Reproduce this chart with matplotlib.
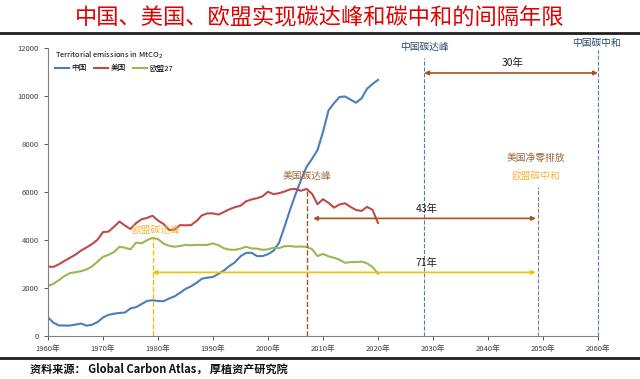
import matplotlib
matplotlib.use("Agg")
import matplotlib.pyplot as plt
import numpy as np

plt.rcParams['font.family'] = ['Noto Sans CJK SC', 'DejaVu Sans']

years = np.arange(1960, 2021)

# Territorial emissions, MtCO2
china = [780, 550, 440, 436, 436, 475, 520, 430, 470, 580,
         770, 880, 930, 960, 980, 1150, 1200, 1330, 1460, 1490,
         1460, 1450, 1560, 1650, 1800, 1960, 2070, 2210, 2390, 2430,
         2460, 2590, 2730, 2920, 3070, 3320, 3460, 3470, 3330, 3330,
         3410, 3550, 3880, 4550, 5250, 5900, 6500, 7040, 7380, 7750,
         8500, 9400, 9700, 9960, 9980, 9850, 9720, 9900, 10300, 10500,
         10670]
usa = [2890, 2880, 2990, 3130, 3260, 3390, 3560, 3690, 3830, 4010,
       4330, 4350, 4550, 4770, 4600, 4460, 4700, 4860, 4920, 5010,
       4810, 4670, 4420, 4430, 4620, 4610, 4620, 4790, 5030, 5110,
       5110, 5060, 5170, 5280, 5370, 5430, 5610, 5690, 5740, 5820,
       6010, 5910, 5950, 6020, 6110, 6130, 6050, 6130, 5930, 5490,
       5700, 5550, 5350, 5480, 5530, 5380, 5250, 5210, 5380, 5260,
       4710]
eu27 = [2080, 2180, 2330, 2500, 2620, 2660, 2700, 2770, 2900, 3100,
        3300, 3380, 3500, 3720, 3680, 3610, 3890, 3860, 3990, 4090,
        4040, 3850, 3760, 3720, 3750, 3800, 3780, 3800, 3790, 3800,
        3860, 3780, 3650, 3600, 3590, 3640, 3720, 3650, 3640, 3590,
        3610, 3680, 3660, 3740, 3750, 3720, 3730, 3710, 3620, 3330,
        3420, 3320, 3260, 3180, 3050, 3080, 3080, 3100, 3030, 2880,
        2600]

xticks = list(range(1960, 2061, 10))
xlabels = [f"{y}年" for y in xticks]

# milestone years
eu_peak, us_peak, cn_peak, netzero, cn_neutral = 1979, 2007, 2028.4, 2049, 2060

c_blue, c_red, c_green = '#4A7EBB', '#BE4B48', '#98B954'
c_brown, c_gold, c_navy = '#A5541D', '#F5C000', '#2B4A6B'

fig = plt.figure(figsize=(6.4, 3.79), dpi=100)
ax = fig.add_axes([48 / 640, 1 - 336 / 379, 550 / 640, 288 / 379])

ax.plot(years, china, color=c_blue, lw=1.5, label='中国')
ax.plot(years, usa, color=c_red, lw=1.5, label='美国')
ax.plot(years, eu27, color=c_green, lw=1.5, label='欧盟27')

ax.set_xlim(1960, 2060)
ax.set_ylim(0, 12000)
ax.set_xticks(xticks)
ax.set_xticklabels(xlabels)
ax.set_yticks(range(0, 12001, 2000))
ax.tick_params(labelsize=5.5, length=3, width=0.6, colors='#404040')
for s in ['top', 'right']:
    ax.spines[s].set_visible(False)
for s in ['left', 'bottom']:
    ax.spines[s].set_color('#808080')
    ax.spines[s].set_linewidth(0.8)

# vertical milestone lines
ax.plot([eu_peak, eu_peak], [0, 4090], color=c_gold, ls='--', lw=1.0)
ax.plot([us_peak, us_peak], [0, 6130], color=c_brown, ls='--', lw=1.0)
ax.plot([netzero, netzero], [0, 6200], color='#7F7F7F', ls='--', lw=0.8)
ax.plot([cn_peak, cn_peak], [0, 11600], color=c_blue, ls='--', lw=0.8)
ax.plot([cn_neutral, cn_neutral], [0, 11900], color=c_blue, ls='--', lw=0.8, clip_on=False)

# arrows
arr = dict(arrowstyle='<|-|>', mutation_scale=6, lw=1.2, shrinkA=0, shrinkB=0)
ax.annotate('', xy=(cn_neutral, 10960), xytext=(cn_peak, 10960),
            arrowprops=dict(arr, color=c_brown), annotation_clip=False)
ax.annotate('', xy=(netzero - 0.3, 4900), xytext=(us_peak + 1.2, 4900),
            arrowprops=dict(arr, color=c_brown))
ax.annotate('', xy=(netzero - 0.3, 2650), xytext=(eu_peak, 2650),
            arrowprops=dict(arr, color=c_gold))

ax.text(2044.5, 11150, '30年', fontsize=7.5, ha='center', va='bottom', color='#202020')
ax.text(2028.8, 5080, '43年', fontsize=7.5, ha='center', va='bottom', color='#202020')
ax.text(2028.8, 2830, '71年', fontsize=7.5, ha='center', va='bottom', color='#202020')

ax.text(cn_peak, 12030, '中国碳达峰', fontsize=7, ha='center', va='center', color=c_navy, clip_on=False)
ax.text(cn_neutral - 0.2, 12210, '中国碳中和', fontsize=7, ha='center', va='center', color=c_navy, clip_on=False)
ax.text(us_peak, 6670, '美国碳达峰', fontsize=7, ha='center', va='center', color='#9A6A3C')
ax.text(eu_peak + 0.5, 4420, '欧盟碳达峰', fontsize=7, ha='center', va='center', color='#F2B02A', alpha=0.9)
ax.text(netzero - 0.3, 7430, '美国净零排放', fontsize=7, ha='center', va='center', color='#9A6A3C')
ax.text(netzero - 0.3, 6670, '欧盟碳中和', fontsize=7, ha='center', va='center', color='#F2B02A', alpha=0.9)

leg = ax.legend(loc='upper left', bbox_to_anchor=(0.0, 1.02), ncol=3, frameon=False,
                fontsize=5.5, handlelength=1.9, handletextpad=0.3, columnspacing=0.9,
                title='Territorial emissions in MtCO$_2$', title_fontsize=5.5)
leg._legend_box.align = 'left'

# title and rules
fig.text(0.5, 1 - 18 / 379, '中国、美国、欧盟实现碳达峰和碳中和的间隔年限',
         fontsize=16, color='#E00000', ha='center', va='center')
fig.add_artist(plt.Line2D([0, 1], [1 - 33 / 379] * 2, color='#202020', lw=2))
fig.add_artist(plt.Line2D([0, 1], [1 - 358 / 379] * 2, color='#202020', lw=2))
fig.text(30 / 640, 1 - 369 / 379, '资料来源： Global Carbon Atlas， 厚植资产研究院',
         fontsize=8, fontweight='bold', color='#101010', ha='left', va='center')

fig.savefig('out.png', dpi=100)
